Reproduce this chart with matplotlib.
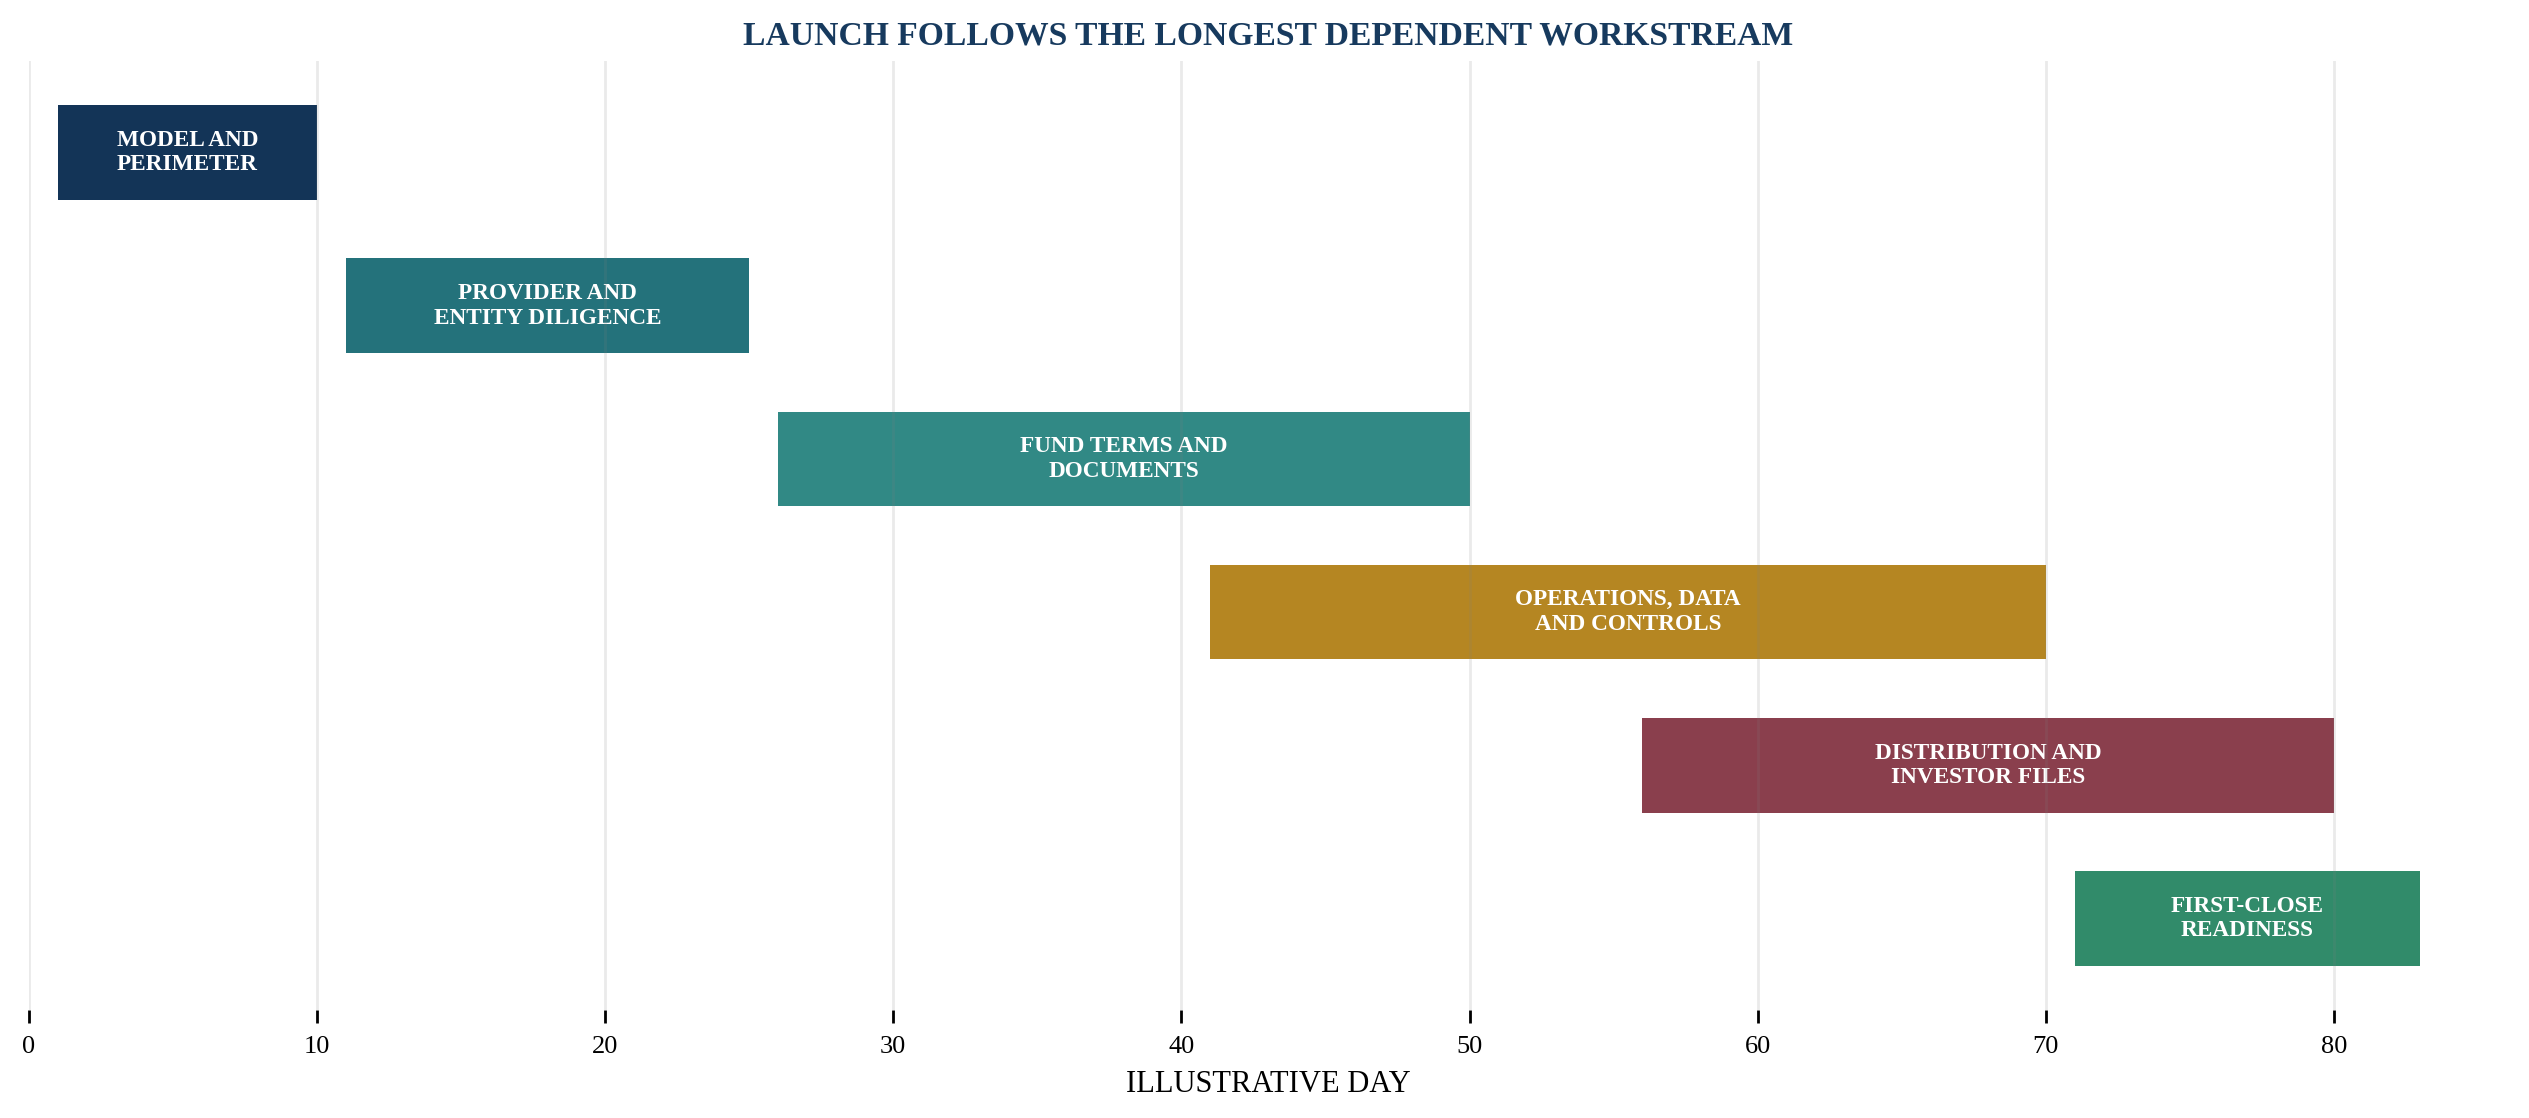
import matplotlib.pyplot as plt
import numpy as np

# workstreams, top to bottom
tasks = [
    "MODEL AND\nPERIMETER",
    "PROVIDER AND\nENTITY DILIGENCE",
    "FUND TERMS AND\nDOCUMENTS",
    "OPERATIONS, DATA\nAND CONTROLS",
    "DISTRIBUTION AND\nINVESTOR FILES",
    "FIRST-CLOSE\nREADINESS",
]
start_day = [1, 11, 26, 41, 56, 71]
end_day = [10, 25, 50, 70, 80, 83]
colors = ["#133457", "#24727B", "#318985", "#B58622", "#8A3F4D", "#318B6A"]
x_ticks = [0, 10, 20, 30, 40, 50, 60, 70, 80]

plt.rcParams["font.family"] = ["Liberation Serif", "DejaVu Serif"]

fig = plt.figure(figsize=(12.645, 5.59), dpi=200)
ax = fig.add_axes([0.01147, 0.0966, 0.9797, 0.8488])

y = np.arange(len(tasks))
widths = np.array(end_day) - np.array(start_day)
ax.barh(y, widths, left=start_day, height=0.62, color=colors, zorder=1)

for yi, s, w, lab in zip(y, start_day, widths, tasks):
    ax.text(s + w / 2, yi, lab, ha="center", va="center", color="white",
            fontsize=8.4, fontweight="bold", linespacing=1.2, zorder=2)

ax.set_xlim(0, 86)
ax.set_ylim(len(tasks) - 0.4, -0.6)
ax.set_xticks(x_ticks)
ax.set_yticks([])
ax.tick_params(axis="x", length=4.5, width=1.0, labelsize=9.5, pad=5)
# grid sits above the bars, faint enough to show through them
ax.set_axisbelow(False)
ax.grid(axis="x", color="#808080", alpha=0.16, linewidth=1.0)
for sp in ax.spines.values():
    sp.set_visible(False)

ax.set_xlabel("ILLUSTRATIVE DAY", fontsize=11, labelpad=4)
ax.set_title("LAUNCH FOLLOWS THE LONGEST DEPENDENT WORKSTREAM",
             fontsize=12.1, fontweight="bold", color="#173A5E", pad=6)

fig.savefig("out.png", dpi=200)
